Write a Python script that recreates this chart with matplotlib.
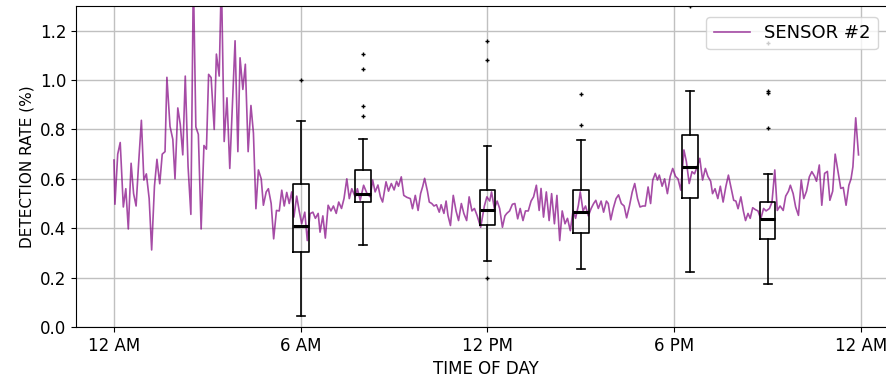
import matplotlib
matplotlib.use("Agg")
import matplotlib.pyplot as plt

# sensor #2 detection rate, hours after midnight
hours = [0.00, 0.03, 0.12, 0.20, 0.30, 0.38, 0.46, 0.55, 0.63, 0.71, 0.79, 0.88, 0.96, 1.04, 1.13, 1.21,
         1.30, 1.38, 1.47, 1.55, 1.64, 1.70, 1.80, 1.89, 1.96, 2.05, 2.13, 2.21, 2.29, 2.38, 2.47, 2.55,
         2.63, 2.71, 2.80, 2.89, 2.97, 3.04, 3.12, 3.22, 3.29, 3.38, 3.45, 3.54, 3.63, 3.72, 3.89, 3.98,
         4.05, 4.14, 4.22, 4.31, 4.40, 4.48, 4.56, 4.64, 4.73, 4.80, 4.89, 4.96, 5.05, 5.13, 5.22, 5.31,
         5.39, 5.47, 5.55, 5.63, 5.71, 5.78, 5.87, 5.95, 6.03, 6.13, 6.21, 6.30, 6.39, 6.47, 6.56, 6.62,
         6.71, 6.79, 6.88, 6.97, 7.05, 7.14, 7.22, 7.31, 7.39, 7.48, 7.56, 7.64, 7.75, 7.82, 7.91, 8.02,
         8.13, 8.23, 8.31, 8.39, 8.48, 8.56, 8.63, 8.74, 8.82, 8.91, 9.00, 9.08, 9.14, 9.23, 9.31, 9.41,
         9.52, 9.59, 9.68, 9.77, 9.85, 9.92, 9.98, 10.07, 10.13, 10.21, 10.28, 10.36, 10.45, 10.51, 10.60, 10.67,
         10.73, 10.81, 10.90, 10.99, 11.07, 11.16, 11.24, 11.33, 11.41, 11.50, 11.58, 11.67, 11.78, 11.90, 11.98, 12.07,
         12.13, 12.22, 12.31, 12.39, 12.48, 12.56, 12.62, 12.71, 12.80, 12.88, 12.97, 13.05, 13.14, 13.22, 13.31, 13.40,
         13.48, 13.57, 13.66, 13.72, 13.80, 13.89, 13.98, 14.06, 14.15, 14.23, 14.32, 14.40, 14.49, 14.57, 14.66, 14.75,
         14.83, 14.92, 14.98, 15.07, 15.15, 15.24, 15.33, 15.41, 15.48, 15.56, 15.65, 15.73, 15.82, 15.88, 15.96, 16.04,
         16.13, 16.21, 16.30, 16.39, 16.47, 16.56, 16.65, 16.73, 16.82, 16.90, 16.99, 17.07, 17.16, 17.24, 17.31, 17.39,
         17.46, 17.52, 17.61, 17.69, 17.78, 17.87, 17.95, 18.04, 18.12, 18.21, 18.31, 18.39, 18.48, 18.57, 18.65, 18.74,
         18.82, 18.91, 19.00, 19.08, 19.17, 19.23, 19.31, 19.40, 19.48, 19.57, 19.66, 19.74, 19.83, 19.91, 19.98, 20.05,
         20.14, 20.22, 20.29, 20.37, 20.44, 20.52, 20.61, 20.69, 20.78, 20.87, 20.95, 21.06, 21.14, 21.23, 21.31, 21.40,
         21.50, 21.58, 21.67, 21.73, 21.82, 21.90, 21.99, 22.08, 22.16, 22.25, 22.34, 22.42, 22.51, 22.57, 22.66, 22.74,
         22.83, 22.92, 23.00, 23.09, 23.17, 23.26, 23.35, 23.43, 23.52, 23.61, 23.68, 23.74, 23.83, 23.92]
rate = [0.676, 0.497, 0.70, 0.747, 0.486, 0.56, 0.397, 0.663, 0.54, 0.49, 0.66, 0.837, 0.595, 0.62, 0.52, 0.312,
        0.57, 0.679, 0.58, 0.70, 0.71, 1.011, 0.812, 0.76, 0.60, 0.887, 0.82, 0.697, 1.016, 0.65, 0.456, 1.42,
        0.81, 0.78, 0.397, 0.735, 0.72, 1.023, 1.01, 0.80, 1.105, 1.016, 1.42, 0.751, 0.928, 0.642, 1.159, 0.71,
        1.09, 0.962, 1.064, 0.71, 0.897, 0.785, 0.479, 0.636, 0.60, 0.493, 0.547, 0.56, 0.50, 0.357, 0.472, 0.47,
        0.554, 0.49, 0.545, 0.50, 0.547, 0.445, 0.53, 0.47, 0.418, 0.465, 0.35, 0.459, 0.465, 0.44, 0.46, 0.384,
        0.45, 0.36, 0.493, 0.47, 0.49, 0.46, 0.506, 0.48, 0.52, 0.60, 0.52, 0.56, 0.527, 0.56, 0.513, 0.574,
        0.54, 0.527, 0.595, 0.547, 0.575, 0.527, 0.506, 0.588, 0.55, 0.581, 0.555, 0.59, 0.57, 0.608, 0.533, 0.525,
        0.52, 0.479, 0.533, 0.472, 0.54, 0.57, 0.602, 0.55, 0.506, 0.50, 0.49, 0.495, 0.465, 0.495, 0.46, 0.51,
        0.452, 0.411, 0.533, 0.47, 0.431, 0.50, 0.46, 0.431, 0.527, 0.47, 0.48, 0.45, 0.404, 0.49, 0.527, 0.51,
        0.547, 0.48, 0.51, 0.48, 0.404, 0.45, 0.46, 0.47, 0.497, 0.50, 0.438, 0.48, 0.431, 0.47, 0.47, 0.51,
        0.527, 0.574, 0.472, 0.561, 0.445, 0.547, 0.431, 0.54, 0.418, 0.533, 0.35, 0.47, 0.418, 0.44, 0.39, 0.472,
        0.44, 0.493, 0.547, 0.47, 0.49, 0.45, 0.48, 0.50, 0.513, 0.48, 0.51, 0.465, 0.51, 0.50, 0.434, 0.48,
        0.52, 0.535, 0.50, 0.49, 0.442, 0.49, 0.547, 0.581, 0.52, 0.486, 0.49, 0.49, 0.567, 0.50, 0.595, 0.622,
        0.595, 0.615, 0.57, 0.60, 0.54, 0.61, 0.642, 0.61, 0.60, 0.554, 0.717, 0.669, 0.581, 0.629, 0.62, 0.65,
        0.683, 0.595, 0.642, 0.61, 0.59, 0.54, 0.56, 0.52, 0.57, 0.506, 0.57, 0.615, 0.56, 0.513, 0.51, 0.479,
        0.527, 0.47, 0.431, 0.46, 0.44, 0.483, 0.475, 0.47, 0.438, 0.48, 0.47, 0.48, 0.506, 0.636, 0.472, 0.49,
        0.472, 0.53, 0.55, 0.574, 0.54, 0.486, 0.452, 0.595, 0.52, 0.55, 0.608, 0.629, 0.61, 0.59, 0.656, 0.493,
        0.622, 0.63, 0.513, 0.55, 0.70, 0.63, 0.561, 0.565, 0.493, 0.574, 0.60, 0.649, 0.847, 0.697]

# box summaries at selected times of day
box_pos = [6, 8, 12, 15, 18.5, 21]
whis_lo = [0.045, 0.332, 0.267, 0.236, 0.224, 0.176]
q1 = [0.302, 0.506, 0.415, 0.380, 0.522, 0.355]
med = [0.411, 0.539, 0.473, 0.465, 0.648, 0.436]
q3 = [0.578, 0.636, 0.553, 0.553, 0.776, 0.505]
whis_hi = [0.836, 0.763, 0.733, 0.757, 0.957, 0.619]
fliers = [[0.999], [1.105, 1.045, 0.894, 0.853], [1.159, 1.082, 0.20],
          [0.944, 0.818], [1.30], [1.15, 0.955, 0.947, 0.806]]

xtick_pos = [0, 6, 12, 18, 24]
xtick_lab = ["12 AM", "6 AM", "12 PM", "6 PM", "12 AM"]

fig = plt.figure(figsize=(8.87, 3.85), dpi=100)
ax = fig.add_axes([0.0857, 0.1506, 0.925, 0.834])

ax.plot(hours, rate, color="purple", alpha=0.7, lw=1.2, label="SENSOR #2", zorder=2)

stats = []
for i in range(len(box_pos)):
    stats.append(dict(whislo=whis_lo[i], q1=q1[i], med=med[i], q3=q3[i],
                      whishi=whis_hi[i], fliers=fliers[i]))
ax.bxp(stats, positions=box_pos, widths=0.5, manage_ticks=False,
       boxprops=dict(color="black", lw=1.2),
       whiskerprops=dict(color="black", lw=1.2),
       capprops=dict(color="black", lw=1.2),
       medianprops=dict(color="black", lw=2.2),
       flierprops=dict(marker="+", markersize=3, markeredgecolor="black", markeredgewidth=1))

ax.set_xlim(-1.22, 25.14)
ax.set_ylim(0, 1.3)
ax.set_xticks(xtick_pos)
ax.set_xticklabels(xtick_lab)
ax.set_yticks([0.0, 0.2, 0.4, 0.6, 0.8, 1.0, 1.2])
ax.tick_params(labelsize=12)
ax.grid(True, color="#c0c0c0", lw=1)
ax.set_axisbelow(True)
ax.set_xlabel("TIME OF DAY", fontsize=12)
ax.set_ylabel("DETECTION RATE (%)", fontsize=11)

ax.legend(loc="upper right", bbox_to_anchor=(878 / 887, 1 - 17 / 385),
          bbox_transform=fig.transFigure, borderaxespad=0, fontsize=13)

fig.savefig("out.png", dpi=100)
